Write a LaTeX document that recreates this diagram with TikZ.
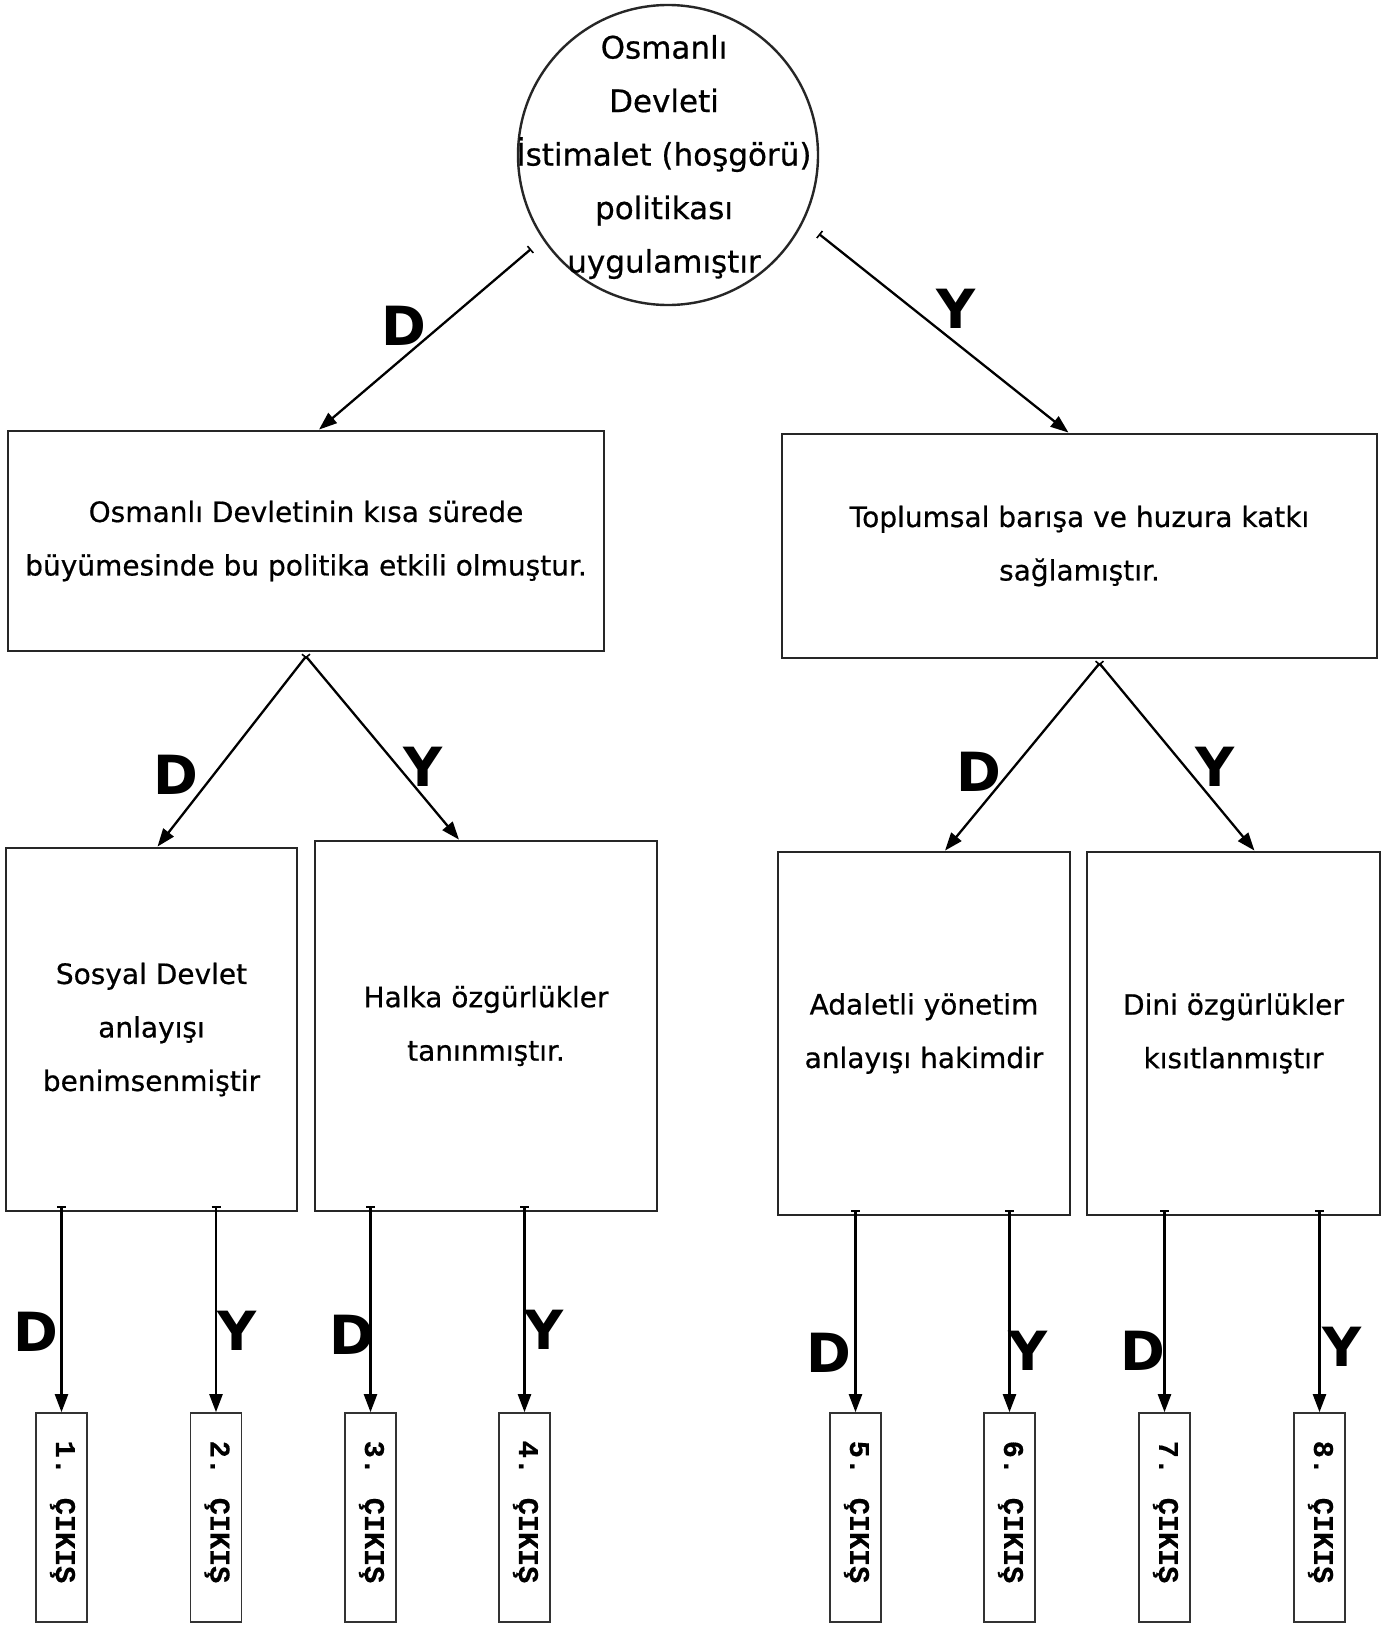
\documentclass[tikz,border=0pt]{standalone}
\usepackage{fontspec}
\setmainfont{DejaVu Sans}[FakeBold=0.6]
\newfontfamily\lblfont{DejaVu Sans Bold}
\newfontfamily\exitfont{Liberation Mono Bold}[FakeBold=0.5]
\usetikzlibrary{arrows.meta,calc}
\begin{document}
\begin{tikzpicture}[x=1pt,y=-1pt,
  box/.style={draw=black!85,line width=2.8pt,inner sep=0pt,align=center,
    font=\fontsize{28}{53.5}\selectfont},
  exitbox/.style={draw=black!80,line width=1.6pt,inner sep=0pt,minimum width=51pt,minimum height=209pt},
  exittext/.style={rotate=-90,font=\exitfont\fontsize{28.5}{30}\selectfont},
  lbl/.style={font=\lblfont\fontsize{54}{54}\selectfont,inner sep=0pt},
  arr/.style={line width=2.3pt,{Bar[width=9pt,line width=1.6pt]}-{Triangle[length=18pt,width=13pt]}}
]
\useasboundingbox (0,0) rectangle (1392,1625);
\fill[white] (0,0) rectangle (1392,1625);

\node[box,circle,line width=2.4pt,minimum size=300pt] (top) at (668,155) {};
\node[align=center,font=\fontsize{31}{53.5}\selectfont] (toptext) at (664,157)
  {Osmanlı\\Devleti\\İstimalet (hoşgörü)\\politikası\\uygulamıştır};

\node[box,minimum width=596pt,minimum height=220pt] (A) at (306,541)
  {Osmanlı Devletinin kısa sürede\\büyümesinde bu politika etkili olmuştur.};
\node[box,minimum width=595pt,minimum height=224pt] (B) at (1079.5,546)
  {Toplumsal barışa ve huzura katkı\\sağlamıştır.};

\node[box,minimum width=291pt,minimum height=363pt] (C) at (151.5,1029.5)
  {Sosyal Devlet\\anlayışı\\benimsenmiştir};
\node[box,minimum width=342pt,minimum height=370pt] (D) at (486,1026)
  {Halka özgürlükler\\tanınmıştır.};
\node[box,minimum width=292pt,minimum height=363pt] (E) at (924,1033.5)
  {Adaletli yönetim\\anlayışı hakimdir};
\node[box,minimum width=293pt,minimum height=363pt] (F) at (1233.5,1033.5)
  {Dini özgürlükler\\kısıtlanmıştır};

\foreach \n/\x in {1/61.5,2/216,3/370.5,4/524.5,5/855.5,6/1009.5,7/1164.5,8/1319.5}{
  \node[exitbox] (e\n) at (\x,1517.5) {};
  \node[exittext] (t\n) at (\x+1,1512) {\n. ÇIKIŞ};
}

% top arrows
\coordinate (s1) at (531,249);
\coordinate (s2) at (819,234);
\draw[arr] (s1) -- ([xshift=13pt]A.north);
\draw[arr] (s2) -- ([xshift=-11pt]B.north);

% middle arrows
\coordinate (sA) at ([yshift=-4pt]A.south);
\coordinate (sB) at ([xshift=20pt,yshift=-4pt]B.south);
\draw[arr] (sA) -- ([xshift=6pt]C.north);
\draw[arr] (sA) -- ([xshift=-27pt]D.north);
\draw[arr] (sB) -- ([xshift=21pt]E.north);
\draw[arr] (sB) -- ([xshift=21pt]F.north);

% bottom arrows
\foreach \b/\i/\j in {C/1/2,D/3/4,E/5/6,F/7/8}{
  \draw[arr] ([yshift=6pt]\b.south -| e\i.north) -- (e\i.north);
  \draw[arr] ([yshift=6pt]\b.south -| e\j.north) -- (e\j.north);
}

% labels
\node[lbl] (l1) at (404,326) {D};
\node[lbl] (l2) at (956,309) {Y};
\node[lbl] (l3) at (176,775) {D};
\node[lbl] (l4) at (423,767) {Y};
\node[lbl] (l5) at (979,772) {D};
\node[lbl] (l6) at (1215,767) {Y};
\node[lbl] (l7) at (36,1332) {D};
\node[lbl] (l8) at (237,1331) {Y};
\node[lbl] (l9) at (352,1335) {D};
\node[lbl] (l10) at (544,1330) {Y};
\node[lbl] (l11) at (829,1353) {D};
\node[lbl] (l12) at (1028,1351) {Y};
\node[lbl] (l13) at (1143,1351) {D};
\node[lbl] (l14) at (1342,1347) {Y};
\end{tikzpicture}
\end{document}
